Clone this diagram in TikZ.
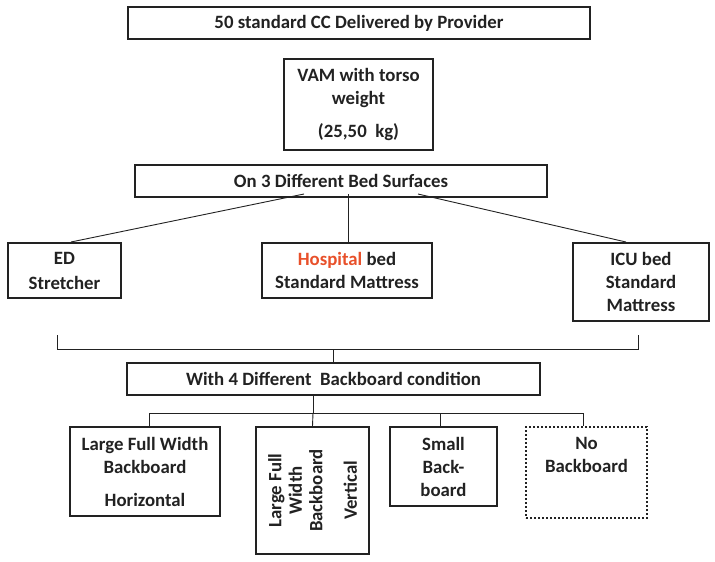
\documentclass[tikz,border=0pt]{standalone}
\usepackage{fontspec}
\setmainfont{Carlito}
\definecolor{hosp}{HTML}{E8502A}
\definecolor{ink}{HTML}{222222}
\begin{document}
\begin{tikzpicture}[x=1pt,y=-1pt,
  box/.style={draw=ink,line width=2pt,inner sep=0pt,align=center,
    font=\fontsize{18.8}{23}\selectfont\bfseries,text=ink},
  dotbox/.style={box,dotted,line width=1.8pt},
  conn/.style={draw=ink,line width=0.9pt}]
\useasboundingbox (0,0) rectangle (715,562);
\node[box,minimum width=462,minimum height=32] (b1) at (359,23) {50 standard CC Delivered by Provider};
\node[box,minimum width=149,minimum height=91] (b2) at (358.5,104.5) {VAM with torso\\weight\\[10pt](25,50\ \ kg)};
\node[box,minimum width=412,minimum height=32] (b3) at (341,181) {On 3 Different Bed Surfaces};
\node[box,minimum width=113,minimum height=55] (ed) at (64.5,270.5) {ED\\[2pt]Stretcher};
\node[box,minimum width=170,minimum height=55] (hb) at (347,270.5) {\textcolor{hosp}{Hospital} bed\\Standard Mattress};
\node[box,minimum width=136,minimum height=78] (icu) at (641,282) {ICU bed\\Standard\\Mattress};
\node[box,minimum width=413,minimum height=32] (b4) at (333.5,379) {With 4 Different\ \ Backboard condition};
\node[box,minimum width=150,minimum height=89] (ba) at (145,471.5) {Large Full Width\\Backboard\\[10pt]Horizontal};
\node[box,minimum width=127,minimum height=113,rotate=90,font=\fontsize{18.8}{20.5}\selectfont\bfseries] (bb) at (312.5,490.5) {Large Full\\Width\\Backboard\\[14pt]Vertical};
\node[box,minimum width=107,minimum height=79] (bc) at (443.5,466.5) {Small\\Back-\\board};
\node[dotbox,minimum width=121,minimum height=91] (bd) at (586.5,472.5) {No\\Backboard\\[12pt]\mbox{}};
% connectors from bed surfaces
\draw[conn] ([xshift=-37pt,yshift=4pt]b3.south) -- ([xshift=6.5pt]ed.north);
\draw[conn] ([xshift=7pt,yshift=4pt]b3.south) -- ([xshift=1pt]hb.north);
\draw[conn] ([xshift=77pt,yshift=4pt]b3.south) -- ([xshift=-15pt]icu.north);
% bracket
\coordinate (l1) at (57,335);
\coordinate (l2) at (57,349);
\coordinate (r1) at (638,335);
\coordinate (r2) at (638,349);
\coordinate (m1) at (333.5,349);
\draw[conn] (l1) -- (l2) -- (r2) -- (r1);
\draw[conn] (m1) -- (b4.north);
% second bracket
\coordinate (h0) at (313,395);
\coordinate (hm) at (313,413);
\coordinate (ha) at (149,413);
\coordinate (hc) at (440,413);
\coordinate (hd) at (583,413);
\draw[conn] (h0) -- (hm);
\draw[conn] ([xshift=4pt]ba.north) -- (ha) -- (hd) -- ([xshift=-3.5pt]bd.north);
\draw[conn] (hm) -- (bb.east);
\draw[conn] (hc) -- ([xshift=-3.5pt]bc.north);
\end{tikzpicture}
\end{document}
